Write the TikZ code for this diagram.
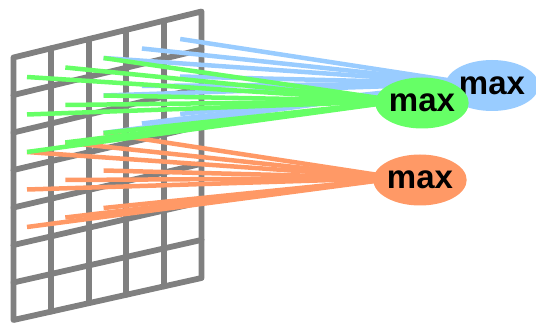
\documentclass[tikz,border=0pt]{standalone}
\usepackage{fontspec}
\setmainfont{Liberation Sans}
\usetikzlibrary{shapes.geometric,calc}
\definecolor{gridgray}{HTML}{808080}
\definecolor{poolblue}{HTML}{99CCFF}
\definecolor{poolgreen}{HTML}{66FF66}
\definecolor{poolorange}{HTML}{FF9966}
\pgfdeclarelayer{bg}
\pgfsetlayers{bg,main}
\begin{document}
\begin{tikzpicture}[x=1pt,y=-1pt,
  gridline/.style={draw=gridgray,line width=5.8pt,line join=round,line cap=round},
  link/.style={line width=4.5pt},
  pool/.style={ellipse,inner sep=0pt,minimum width=90pt,minimum height=51pt,
    font=\fontsize{33}{33}\selectfont\bfseries}]
\useasboundingbox (0,0) rectangle (536,323);

% max-pooling units
\node[pool,fill=poolblue]   (bmax) at (492,85.5) {max};
\node[pool,fill=poolgreen]  (gmax) at (422,103)  {max};
\node[pool,fill=poolorange] (omax) at (420,180)  {max};

\begin{pgfonlayer}{bg}
  % input grid: 5 columns x 7 rows, sheared
  \coordinate (A) at (13.5,57.5);
  \coordinate (B) at (201.5,11.5);
  \coordinate (C) at (201.5,278);
  \coordinate (D) at (13.5,320);
  \foreach \i in {1,...,4}
    \draw[gridline] ($(A)!\i/5!(B)$) -- ($(D)!\i/5!(C)$);
  \foreach \j in {1,...,6}
    \draw[gridline] ($(A)!\j/7!(D)$) -- ($(B)!\j/7!(C)$);
  \draw[gridline] (A) -- (B) -- (C) -- (D) -- cycle;

  % cell points of the grid
  \foreach \c in {1,...,5}
    \foreach \r in {1,...,5}
      \coordinate (p\c\r) at ({27+(\c-1)*38.3},{77+(\r-1)*37.5-(\c-1)*9.5});

  % 3x3 windows, stride 2
  \foreach \c in {1,2,3}
    \foreach \r in {3,4,5}
      \draw[link,poolorange] (p\c\r) -- ($(omax.center)+(-22,-2)$);
  \foreach \c in {3,4,5}
    \foreach \r in {1,2,3}
      \draw[link,poolblue] (p\c\r) -- ($(bmax.center)+(-22,-2)$);
  \foreach \c in {1,2,3}
    \foreach \r in {1,2,3}
      \draw[link,poolgreen] (p\c\r) -- ($(gmax.center)+(-22,-2)$);
\end{pgfonlayer}
\end{tikzpicture}
\end{document}
